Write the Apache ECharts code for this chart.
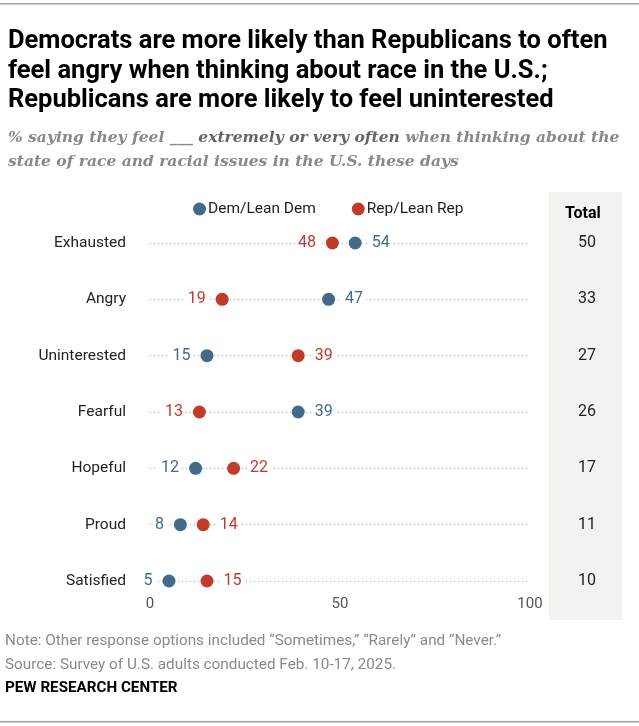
<!DOCTYPE html>
<html>
<head>
<meta charset="utf-8">
<script src="https://cdn.jsdelivr.net/npm/echarts@6/dist/echarts.min.js"></script>
<style>
  html, body { margin: 0; padding: 0; background: #fff; }
  #chart { width: 639px; height: 726px; }
</style>
</head>
<body>
<div id="chart"></div>
<script>
// ========================================
// 数据
// ========================================
const categories = ['Exhausted', 'Angry', 'Uninterested', 'Fearful', 'Hopeful', 'Proud', 'Satisfied'];
const demValues = [54, 47, 15, 39, 12, 8, 5];
const repValues = [48, 19, 39, 13, 22, 14, 15];
const totalValues = [50, 33, 27, 26, 17, 11, 10];
const xTicks = [0, 50, 100];

const DEM_COLOR = '#436a8a';
const REP_COLOR = '#c23b2a';
const FONT = 'Roboto, "Noto Sans", sans-serif';

// 较小值标签放左边，较大值放右边
function buildData(values, others) {
  return values.map(function(v, i) {
    return {
      value: [v, categories[i]],
      label: { position: v < others[i] ? 'left' : 'right' }
    };
  });
}

function dotSeries(name, color, values, others) {
  return {
    name: name,
    type: 'scatter',
    symbolSize: 13,
    itemStyle: { color: color, opacity: 1 },
    label: {
      show: true,
      formatter: function(p) { return p.value[0]; },
      color: color,
      fontSize: 16,
      fontFamily: FONT,
      distance: 7,
      backgroundColor: '#fff',
      padding: [2, 3]
    },
    data: buildData(values, others),
    z: 3
  };
}

const chart = echarts.init(document.getElementById('chart'));

const option = {
  backgroundColor: '#fff',
  animation: false,
  graphic: [
    { type: 'rect', shape: { x: 0, y: 3, width: 639, height: 1.5 }, style: { fill: '#a0a0a0' } },
    { type: 'rect', shape: { x: 0, y: 721, width: 639, height: 1.5 }, style: { fill: '#a0a0a0' } },
    { type: 'rect', z: -10, shape: { x: 549, y: 192, width: 73, height: 428 }, style: { fill: '#f4f2ee' } },
    {
      type: 'text', left: 565, top: 206,
      style: { text: 'Total', font: 'bold 16px ' + FONT, fill: '#000' }
    },
    {
      type: 'text', left: 5, top: 629,
      style: {
        text: 'Note: Other response options included \u201cSometimes,\u201d \u201cRarely\u201d and \u201cNever.\u201d\nSource: Survey of U.S. adults conducted Feb. 10-17, 2025.',
        font: '15.3px ' + FONT, fill: '#8a8a8a', lineHeight: 24
      }
    },
    {
      type: 'text', left: 5, top: 681,
      style: { text: 'PEW RESEARCH CENTER', font: 'bold 15.2px ' + FONT, fill: '#000' }
    }
  ],
  title: [
    {
      text: 'Democrats are more likely than Republicans to often\nfeel angry when thinking about race in the U.S.;\nRepublicans are more likely to feel uninterested',
      left: 3, top: 22,
      textStyle: { fontFamily: FONT, fontWeight: 'bold', fontSize: 25.5, lineHeight: 29.5, color: '#000' }
    },
    {
      text: '{i|% saying they feel ___ }{b|extremely or very often}{i| when thinking about the}\n{i|state of race and racial issues in the U.S. these days}',
      left: 3, top: 121,
      textStyle: {
        rich: {
          i: { fontFamily: '"DejaVu Serif", serif', fontStyle: 'italic', fontSize: 15.5, color: '#888', lineHeight: 24 },
          b: { fontFamily: '"DejaVu Serif", serif', fontStyle: 'italic', fontWeight: 'bold', fontSize: 15.5, color: '#666', lineHeight: 24 }
        }
      }
    }
  ],
  legend: {
    data: ['Dem/Lean Dem', 'Rep/Lean Rep'],
    left: 188, top: 196,
    icon: 'circle',
    itemWidth: 13, itemHeight: 13, itemGap: 36,
    textStyle: { fontFamily: FONT, fontSize: 15.5, color: '#222', padding: [0, 0, 0, -3] }
  },
  grid: { left: 150, right: 109, top: 243, bottom: 145 },
  xAxis: {
    type: 'value',
    min: 0, max: 100, interval: 50,
    axisLine: { show: false },
    axisTick: { show: false },
    splitLine: { show: false },
    axisLabel: {
      color: '#555', fontFamily: FONT, fontSize: 15, margin: 16,
      formatter: function(v) { return xTicks.indexOf(v) >= 0 ? String(v) : ''; }
    }
  },
  yAxis: [
    {
      type: 'category',
      data: categories,
      inverse: true,
      boundaryGap: false,
      axisLine: { show: false },
      axisTick: { show: false },
      axisLabel: { color: '#222', fontFamily: FONT, fontSize: 15.5, margin: 24 },
      splitLine: { show: true, lineStyle: { color: '#aaa', type: [1, 3], width: 1 } }
    },
    {
      type: 'category',
      data: categories,
      inverse: true,
      boundaryGap: false,
      position: 'right',
      axisLine: { show: false },
      axisTick: { show: false },
      axisLabel: {
        color: '#222', fontFamily: FONT, fontSize: 16, margin: 57, align: 'center',
        formatter: function(v, i) { return totalValues[i]; }
      }
    }
  ],
  series: [
    dotSeries('Dem/Lean Dem', DEM_COLOR, demValues, repValues),
    dotSeries('Rep/Lean Rep', REP_COLOR, repValues, demValues)
  ]
};

chart.setOption(option);
</script>
</body>
</html>
